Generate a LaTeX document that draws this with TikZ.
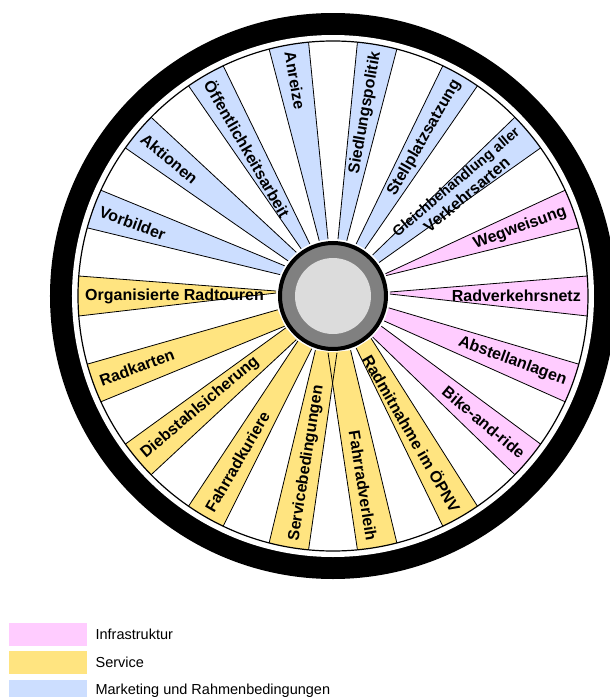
\documentclass[tikz,border=0pt]{standalone}
\usepackage{fontspec}
\setmainfont{Liberation Sans}
\usetikzlibrary{positioning}
\definecolor{infra}{RGB}{255,204,255}
\definecolor{service}{RGB}{255,228,128}
\definecolor{marketing}{RGB}{204,222,255}
\definecolor{hubgray}{RGB}{128,128,128}
\definecolor{hublight}{RGB}{220,220,220}

\begin{document}
\begin{tikzpicture}[x=1pt, y=1pt,
    bandedge/.style={draw=black, line width=0.8pt, line join=round},
    spoketext/.style={font=\bfseries\fontsize{16}{17.5}\selectfont, inner sep=4pt, align=center},
    legendbox/.style={minimum width=78pt, minimum height=23pt, inner sep=0pt, anchor=west},
    legendtext/.style={font=\fontsize{14.5}{16}\selectfont, anchor=west, inner sep=0pt}]
    \useasboundingbox (-333,-401) rectangle (277,296);
    % tyre
    \fill[black] (0,0) circle (283);
    \fill[white] (0,0) circle (261);
    % spokes: angle / hub end from / hub end to / colour
    \def\spokelist{20/21/23/infra, 0/2/4/infra, -20/-26/-12/infra, -40/-46/-32/infra,
        -60/-66/-48/service, -80/-95/-72/service, -100/-108/-86/service,
        -120/-128/-112/service, -140/-146/-130/service, -160/-166/-148/service,
        180/175/177/service, 160/148/158/marketing, 140/130/142/marketing,
        120/114/124/marketing, 100/95/104/marketing, 80/76/85/marketing,
        60/56/66/marketing, 40/36/46/marketing}
    \foreach \ang/\ha/\hb/\col in \spokelist {
        \fill[\col] (\ang-4.5:255) arc[start angle=\ang-4.5, end angle=\ang+4.5, radius=255]
            -- (\hb:57) -- (\ha:57) -- cycle;
    }
    \foreach \ang/\ha/\hb/\col in \spokelist {
        \draw[bandedge] (\ha:57) -- (\ang-4.5:255);
        \draw[bandedge] (\hb:57) -- (\ang+4.5:255);
    }
    % labels
    \foreach \ang/\rot/\anc/\txt [count=\i] in {
        20/20/east/Wegweisung, 0/0/east/Radverkehrsnetz,
        -20/-20/east/Abstellanlagen, -40/-40/east/Bike-and-ride,
        -60/-60/east/Radmitnahme im ÖPNV, -81/-81/east/Fahrradverleih,
        -99/81/west/Servicebedingungen, -120/60/west/Fahrradkuriere,
        -140/40/west/Diebstahlsicherung, -160/20/west/Radkarten,
        180/0/west/Organisierte Radtouren, 160/-20/west/Vorbilder,
        140/-40/west/Aktionen, 120/-60/west/Öffentlichkeitsarbeit,
        100/-80/west/Anreize, 80/80/east/Siedlungspolitik,
        60/60/east/Stellplatzsatzung,
        40/40/east/{\fontsize{14.5}{16}\selectfont Gleichbehandlung aller\\Verkehrsarten}} {
        \node[spoketext, rotate=\rot, anchor=\anc] (lbl\i) at (\ang:252) {\txt};
    }
    \draw[line width=1.2pt] (0,0) circle (255);
    % hub
    \filldraw[fill=hubgray, line width=4pt] (0,0) circle (53) node (hub) {};
    \fill[hublight] (hub.center) circle (38);
    % legend
    \node[legendbox, fill=infra] (boxinfra) at (-324,-338) {};
    \node[legendbox, fill=service] (boxservice) at (-324,-366.5) {};
    \node[legendbox, fill=marketing] (boxmarketing) at (-324,-395) {};
    \node[legendtext, right=8pt of boxinfra] (txtinfra) {Infrastruktur};
    \node[legendtext, right=8pt of boxservice] (txtservice) {Service};
    \node[legendtext, right=8pt of boxmarketing] (txtmarketing) {Marketing und Rahmenbedingungen};
\end{tikzpicture}
\end{document}
